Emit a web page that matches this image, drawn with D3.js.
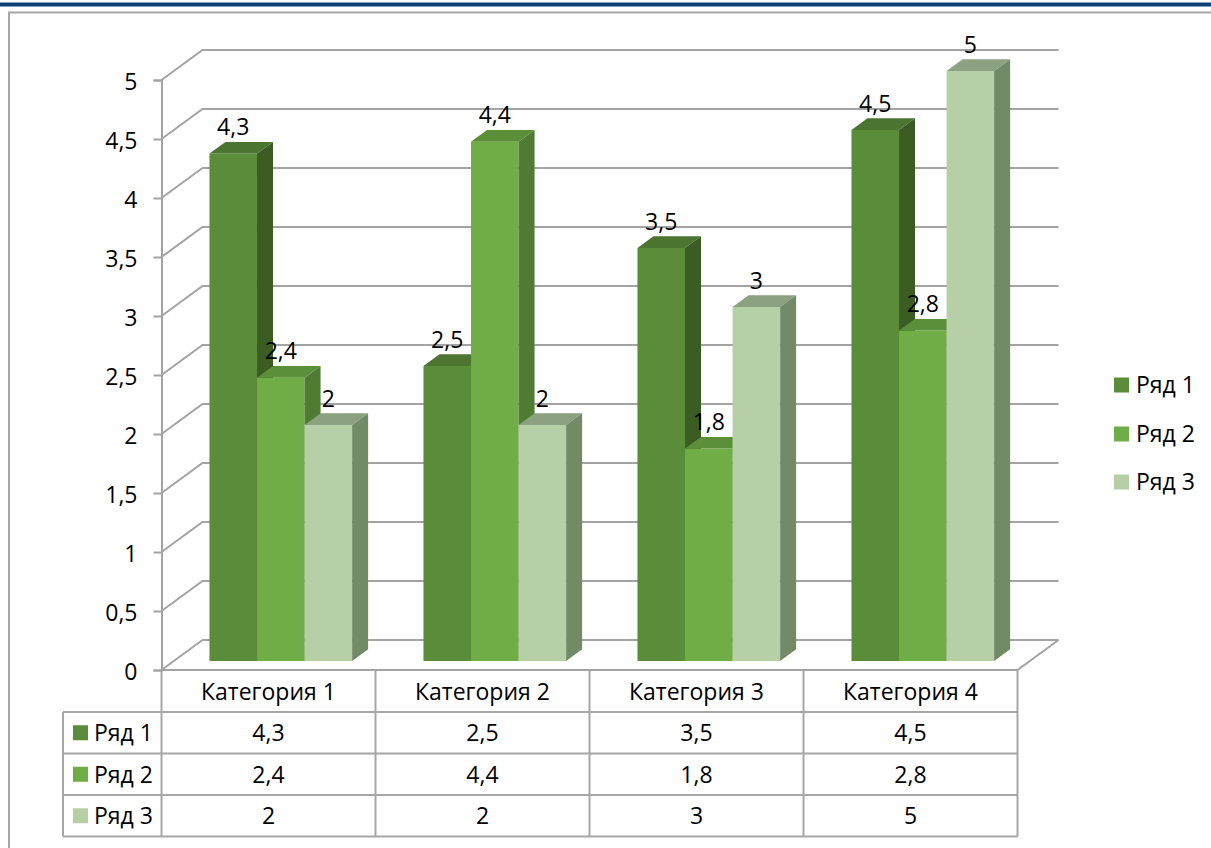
<!DOCTYPE html>
<html>
<head>
<meta charset="utf-8">
<script src="https://cdn.jsdelivr.net/npm/d3@7"></script>
<style>
  html, body { margin: 0; padding: 0; background: #fff; }
  svg { display: block; font-family: "Open Sans", "Noto Sans", sans-serif; }
</style>
</head>
<body>
<svg id="chart" width="1211" height="848"></svg>
<script>
const categories = ["Категория 1", "Категория 2", "Категория 3", "Категория 4"];
const seriesNames = ["Ряд 1", "Ряд 2", "Ряд 3"];
const series1 = [4.3, 2.5, 3.5, 4.5];
const series2 = [2.4, 4.4, 1.8, 2.8];
const series3 = [2, 2, 3, 5];
const yTicks = [0, 0.5, 1, 1.5, 2, 2.5, 3, 3.5, 4, 4.5, 5];

const seriesValues = [series1, series2, series3];
const faceColors = [
  { front: "#5b8c3a", top: "#4b7531", side: "#3b5c23" },
  { front: "#70ad47", top: "#5c8f3a", side: "#4f7b32" },
  { front: "#b6cfa7", top: "#8ba17f", side: "#738a67" }
];

const fmt = d3.formatLocale({ decimal: ",", thousands: " ", grouping: [3], currency: ["", ""] }).format("~g");

const svg = d3.select("#chart");
const font = "'Open Sans', 'Noto Sans', sans-serif";
const fs = 23;

// frame
svg.append("rect").attr("x", 0).attr("y", 2.5).attr("width", 1211).attr("height", 4).attr("fill", "#0d3f76");
svg.append("path").attr("d", "M9,848 V12.5 H1211").attr("fill", "none").attr("stroke", "#a6a6a6").attr("stroke-width", 2);

// geometry
const frontLeft = 161.5, frontRight = 1017.5;
const depthDX = 41, depthDY = -30;
const P = (x, y, d) => [x + depthDX * d, y + depthDY * d];

const y = d3.scaleLinear().domain([0, 5]).range([670, 80]);
const xCat = d3.scaleBand().domain(categories).range([frontLeft, frontRight]).paddingInner(0).paddingOuter(0);
const xSer = d3.scaleBand().domain(seriesNames).range([0, xCat.bandwidth()]).paddingInner(0).paddingOuter(0.75);

// gridlines (side wall + back wall)
const grid = svg.append("g");
yTicks.forEach(t => {
  const pts = [P(frontLeft, y(t), 0), P(frontLeft, y(t), 1), P(frontRight, y(t), 1)];
  grid.append("path").attr("d", d3.line()(pts)).attr("fill", "none").attr("stroke", "#a3a3a3").attr("stroke-width", 2);
});
// floor front + right edges
grid.append("path").attr("d", d3.line()([P(frontLeft, y(0), 0), P(frontRight, y(0), 0), P(frontRight, y(0), 1)]))
  .attr("fill", "none").attr("stroke", "#a3a3a3").attr("stroke-width", 2);

// y axis
const yAxis = d3.axisLeft(y).tickValues(yTicks).tickFormat(fmt).tickSize(8).tickPadding(16);
const ax = svg.append("g").attr("transform", `translate(${frontLeft},0)`).call(yAxis);
ax.select(".domain").attr("stroke", "#a3a3a3").attr("stroke-width", 2);
ax.selectAll(".tick line").attr("stroke", "#a3a3a3").attr("stroke-width", 2);
ax.selectAll(".tick text").attr("font-family", font).attr("font-size", fs).attr("fill", "#000").attr("dy", "0.40em");

// bars
const d1 = 0.30, d2 = 0.69;
const bars = svg.append("g");
const labels = svg.append("g");
categories.forEach((cat, ci) => {
  seriesNames.forEach((sn, si) => {
    const v = seriesValues[si][ci];
    const x0 = xCat(cat) + xSer(sn), x1 = x0 + xSer.bandwidth();
    const yt = y(v), yb = y(0);
    const c = faceColors[si];
    const poly = pts => "M" + pts.map(p => p.join(",")).join("L") + "Z";
    bars.append("path").attr("d", poly([P(x0, yt, d1), P(x1, yt, d1), P(x1, yb, d1), P(x0, yb, d1)])).attr("fill", c.front);
    bars.append("path").attr("d", poly([P(x0, yt, d1), P(x1, yt, d1), P(x1, yt, d2), P(x0, yt, d2)])).attr("fill", c.top);
    bars.append("path").attr("d", poly([P(x1, yt, d1), P(x1, yt, d2), P(x1, yb, d2), P(x1, yb, d1)])).attr("fill", c.side);
    const lp = P((x0 + x1) / 2, yt, d2);
    labels.append("text").attr("x", lp[0] - 16).attr("y", lp[1] - 15).attr("dy", "0.36em")
      .attr("text-anchor", "middle").attr("font-family", font).attr("font-size", fs).attr("fill", "#000")
      .text(fmt(v));
  });
});

// data table
const tbl = svg.append("g");
const rowTop = 671, headerBottom = 712, rowH = 41.5;
const rowLeft = 63;
const tableBottom = headerBottom + rowH * 3;
const lineStyle = s => s.attr("stroke", "#a6a6a6").attr("stroke-width", 2).attr("fill", "none");
[frontLeft].concat(categories.map(c => xCat(c) + xCat.bandwidth())).forEach(xv => {
  lineStyle(tbl.append("line").attr("x1", xv).attr("x2", xv).attr("y1", rowTop).attr("y2", tableBottom));
});
lineStyle(tbl.append("line").attr("x1", rowLeft).attr("x2", rowLeft).attr("y1", headerBottom).attr("y2", tableBottom));
for (let r = 0; r <= 3; r++) {
  const yy = headerBottom + r * rowH;
  lineStyle(tbl.append("line").attr("x1", rowLeft).attr("x2", frontRight).attr("y1", yy).attr("y2", yy));
}
categories.forEach(cat => {
  tbl.append("text").attr("x", xCat(cat) + xCat.bandwidth() / 2).attr("y", (rowTop + headerBottom) / 2).attr("dy", "0.36em")
    .attr("text-anchor", "middle").attr("font-family", font).attr("font-size", fs).text(cat);
});
seriesNames.forEach((sn, si) => {
  const cy = headerBottom + rowH * si + rowH / 2;
  tbl.append("rect").attr("x", 73).attr("y", cy - 7.5).attr("width", 15).attr("height", 15).attr("fill", faceColors[si].front);
  tbl.append("text").attr("x", 94).attr("y", cy).attr("dy", "0.36em").attr("font-family", font).attr("font-size", fs).text(sn);
  categories.forEach((cat, ci) => {
    tbl.append("text").attr("x", xCat(cat) + xCat.bandwidth() / 2).attr("y", cy).attr("dy", "0.36em")
      .attr("text-anchor", "middle").attr("font-family", font).attr("font-size", fs).text(fmt(seriesValues[si][ci]));
  });
});

// legend
const legend = svg.append("g");
const legendY = [385, 434, 482];
seriesNames.forEach((sn, si) => {
  legend.append("rect").attr("x", 1114).attr("y", legendY[si] - 7.5).attr("width", 15).attr("height", 15).attr("fill", faceColors[si].front);
  legend.append("text").attr("x", 1136).attr("y", legendY[si]).attr("dy", "0.36em").attr("font-family", font).attr("font-size", fs).text(sn);
});
</script>
</body>
</html>
